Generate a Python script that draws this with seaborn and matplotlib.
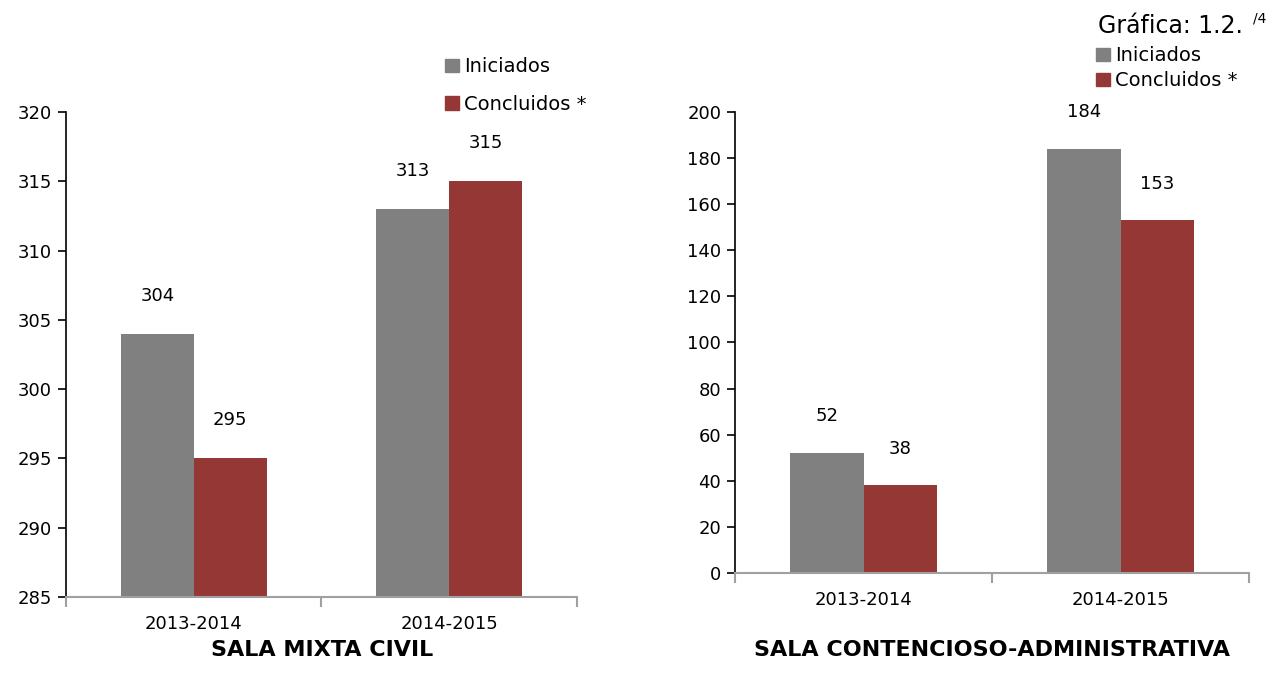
import matplotlib
matplotlib.use("Agg")
import matplotlib.pyplot as plt
import matplotlib.patches as mpatches
import pandas as pd
import seaborn as sns

# data
categories = ["2013-2014", "2014-2015"]
series_names = ["Iniciados", "Concluidos *"]
civil_iniciados = [304, 313]
civil_concluidos = [295, 315]
cont_iniciados = [52, 184]
cont_concluidos = [38, 153]
civil_ticks = [285, 290, 295, 300, 305, 310, 315, 320]
cont_ticks = [0, 20, 40, 60, 80, 100, 120, 140, 160, 180, 200]

colors = {"Iniciados": "#808080", "Concluidos *": "#953735"}


def long_table(iniciados, concluidos):
    rows = []
    for i, cat in enumerate(categories):
        rows.append({"periodo": cat, "serie": series_names[0], "valor": iniciados[i]})
        rows.append({"periodo": cat, "serie": series_names[1], "valor": concluidos[i]})
    return pd.DataFrame(rows)


civil = long_table(civil_iniciados, civil_concluidos)
cont = long_table(cont_iniciados, cont_concluidos)

sns.set_style("white")
plt.rcParams["font.family"] = ["DejaVu Sans"]
plt.rcParams["text.color"] = "black"
plt.rcParams["xtick.color"] = "black"
plt.rcParams["ytick.color"] = "black"

fig = plt.figure(figsize=(12.79, 6.78), dpi=100)
ax1 = fig.add_axes([0.0516, 0.1195, 0.3995, 0.7153])
ax2 = fig.add_axes([0.5747, 0.1549, 0.4019, 0.680])


def draw(ax, df, ticks, pad):
    sns.barplot(data=df, x="periodo", y="valor", hue="serie", order=categories,
                hue_order=series_names, palette=colors, saturation=1,
                width=0.57, errorbar=None, legend=False, linewidth=0, ax=ax)
    ax.set_ylim(ticks[0], ticks[-1])
    ax.set_yticks(ticks)
    ax.set_xlim(-0.5, len(categories) - 0.5)
    ax.set_xlabel("")
    ax.set_ylabel("")
    for c in ax.containers:
        ax.bar_label(c, padding=pad, fontsize=13, color="black")
    sns.despine(ax=ax)
    ax.spines["left"].set_color("black")
    ax.spines["left"].set_linewidth(1.2)
    ax.spines["bottom"].set_color("#a0a0a0")
    ax.spines["bottom"].set_linewidth(1.5)
    ax.tick_params(axis="y", direction="out", length=6, width=1.2, color="black",
                   labelsize=13, left=True, pad=4, labelcolor="black")
    ax.tick_params(axis="x", which="major", length=0, labelsize=13, pad=13,
                   labelcolor="black")
    ax.set_xticks([-0.5, 0.5, 1.5], minor=True)
    ax.tick_params(axis="x", which="minor", direction="out", length=7, width=1.5,
                   color="#a0a0a0", bottom=True)


draw(ax1, civil, civil_ticks, 21)
draw(ax2, cont, cont_ticks, 20)

fig.text(0.2518, 0.041, "SALA MIXTA CIVIL", ha="center", va="center",
         fontsize=16, fontweight="bold")
fig.text(0.7757, 0.041, "SALA CONTENCIOSO-ADMINISTRATIVA", ha="center", va="center",
         fontsize=16, fontweight="bold")

handles = [mpatches.Patch(color=colors[s], label=s) for s in series_names]
fig.legend(handles=handles, loc="upper left", bbox_to_anchor=(0.342, 0.927),
           frameon=False, fontsize=14, handlelength=0.7, handleheight=0.7,
           handletextpad=0.25, labelspacing=0.95, borderaxespad=0)
fig.legend(handles=handles, loc="upper left", bbox_to_anchor=(0.851, 0.943),
           frameon=False, fontsize=14, handlelength=0.7, handleheight=0.7,
           handletextpad=0.25, labelspacing=0.3, borderaxespad=0)

t = fig.text(0.8585, 0.962, "Gráfica: 1.2.", ha="left", va="center", fontsize=17)
fig.canvas.draw()
bb = t.get_window_extent().transformed(fig.transFigure.inverted())
fig.text(bb.x1 + 0.008, 0.972, "/4", ha="left", va="center", fontsize=10)

fig.savefig("out.png", dpi=100)
